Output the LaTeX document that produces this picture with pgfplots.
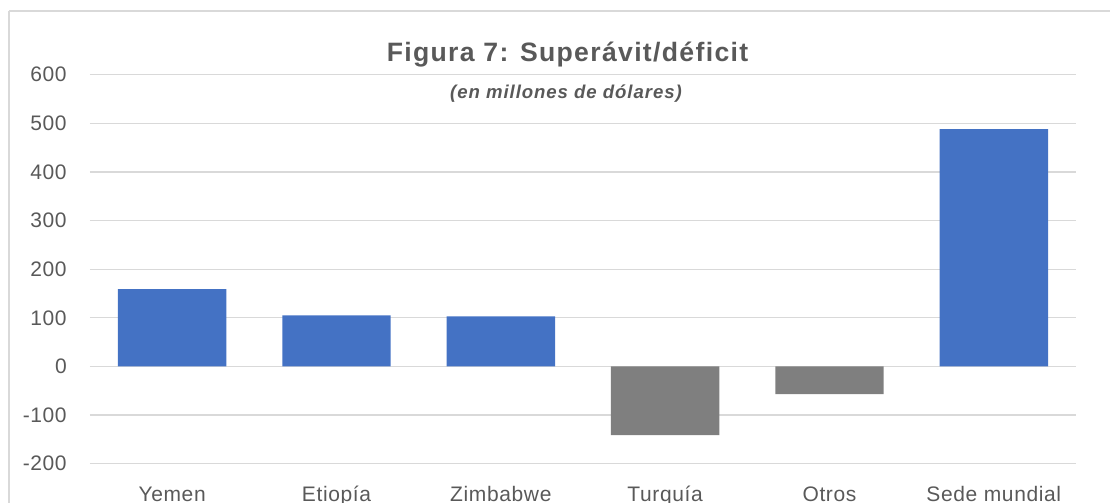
\documentclass[border=0pt]{standalone}
\usepackage{fontspec}
\setmainfont{Liberation Sans}
\usepackage{pgfplots}
\pgfplotsset{compat=1.18}
\definecolor{barBlue}{HTML}{4472C4}
\definecolor{barGray}{HTML}{7F7F7F}
\definecolor{gridGray}{HTML}{D9D9D9}
\definecolor{txtGray}{HTML}{595959}

% 1 px of the reference = 0.5pt
\begin{document}
\begin{tikzpicture}
\clip (0,0) rectangle (555pt,251.5pt);
\draw[gridGray, line width=0.6pt] (4.5pt,246pt) -- (600pt,246pt);
\draw[gridGray, line width=0.6pt] (4.5pt,246pt) -- (4.5pt,-10pt);
\begin{axis}[
    at={(45pt,19.65pt)}, anchor=south west,
    scale only axis,
    width=493pt, height=194.5pt,
    xmin=-0.5, xmax=5.5,
    ymin=-200, ymax=600,
    ytick={-200,-100,0,100,200,300,400,500,600},
    xtick={0,1,2,3,4,5},
    xticklabels={Yemen,Etiopía,Zimbabwe,Turquía,Otros,Sede mundial},
    ymajorgrids, grid style={gridGray, line width=0.6pt},
    axis line style={draw=none},
    major tick length=0pt,
    tick label style={font=\fontsize{10.5}{12}\selectfont\addfontfeature{LetterSpace=3}, text=txtGray},
    /pgf/number format/assume math mode=true,
    yticklabel style={anchor=east, inner sep=0pt, outer sep=0pt, xshift=-11.65pt},
    xticklabel style={anchor=base, inner sep=0pt, outer sep=0pt, yshift=-19pt},
    clip=false,
]
% positive values (blue)
\addplot[ybar, bar width=0.66, bar shift=0pt, fill=barBlue, draw=none] coordinates {
    (0,159) (1,105) (2,103) (5,488)
};
% negative values (gray)
\addplot[ybar, bar width=0.66, bar shift=0pt, fill=barGray, draw=none] coordinates {
    (3,-141) (4,-57)
};
\end{axis}
\node[anchor=base, inner sep=0pt, text=txtGray, font=\fontsize{13.3}{15}\selectfont\bfseries\addfontfeature{LetterSpace=5}] at (283.75pt,220.65pt) {Figura 7: Superávit/déficit};
\node[anchor=base, inner sep=0pt, text=txtGray, font=\fontsize{9.3}{11}\selectfont\bfseries\itshape\addfontfeature{LetterSpace=5}] at (283pt,202.35pt) {(en millones de dólares)};
\end{tikzpicture}
\end{document}
